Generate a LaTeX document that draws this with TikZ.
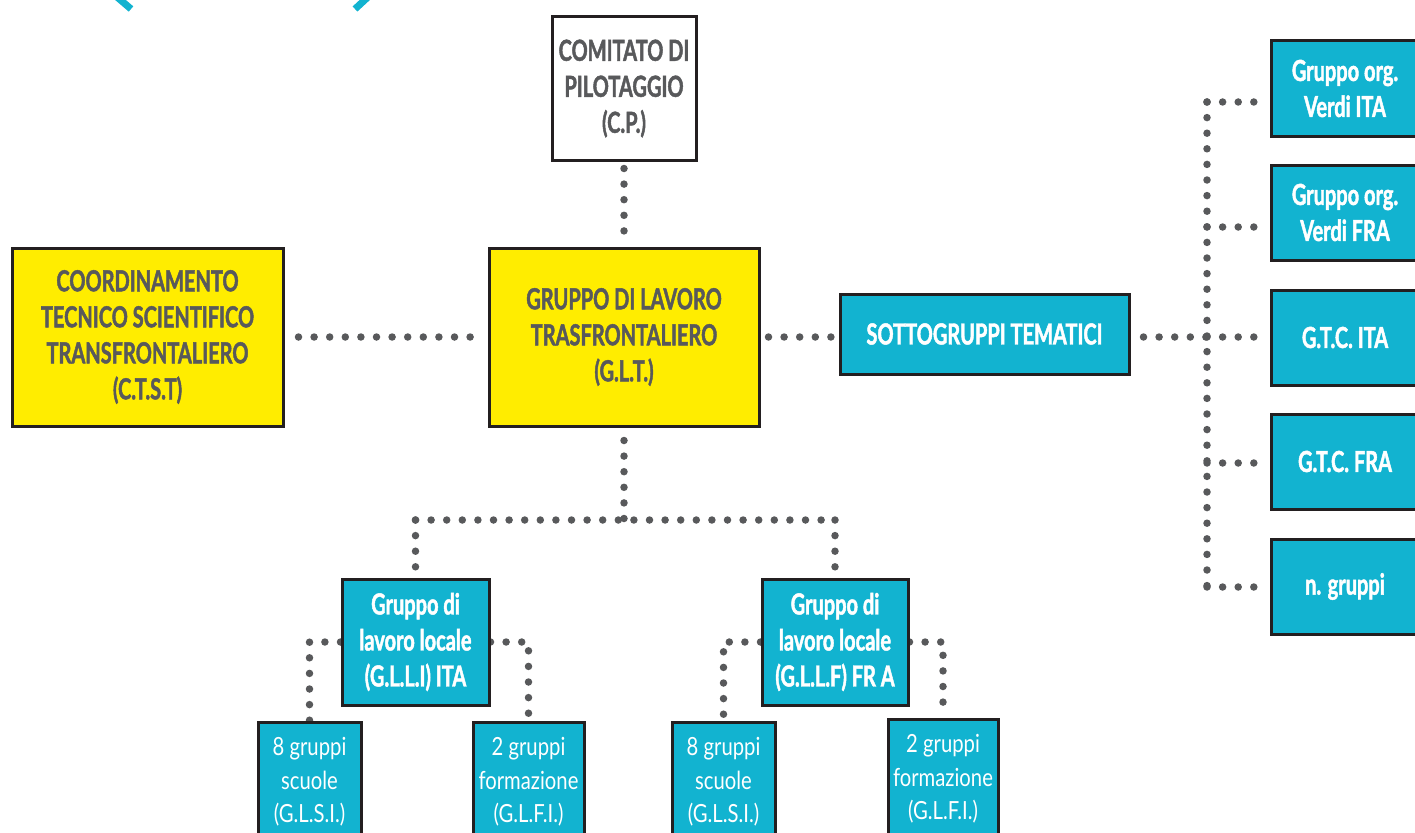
\documentclass[tikz,border=0pt]{standalone}
\usepackage{fontspec}
\setmainfont{Lato}[FakeStretch=0.69, BoldFeatures={FakeBold=1.5}]
\newfontfamily\regf{Lato}[FakeStretch=0.81]
\usetikzlibrary{backgrounds}
\definecolor{cy}{HTML}{12B3D0}
\definecolor{ye}{HTML}{FFED00}
\definecolor{dg}{HTML}{58595B}
\definecolor{bd}{HTML}{231F20}
\tikzset{
  box/.style={draw=bd, line width=3pt, inner sep=0pt, align=center,
    font=\bfseries\fontsize{29}{36}\selectfont},
  yel/.style={box, fill=ye, text=dg},
  whb/.style={box, fill=white, text=dg},
  cyb/.style={box, fill=cy, text=white},
  smallb/.style={cyb, font=\regf\fontsize{25}{33.5}\selectfont},
  dots/.style={draw=dg, line width=7.5pt, line cap=round, dash pattern=on 0pt off 15.6pt},
}
\begin{document}
\begin{tikzpicture}[x=1pt,y=-1pt]
\useasboundingbox (0,0) rectangle (1415,832);
% top decoration
\draw[cy, line width=7pt] (117,-3) -- (131,9);
\draw[cy, line width=7pt] (368,-3) -- (355,9);
% nodes
\node[whb, minimum width=144, minimum height=143] (cp) at (624,88.5) {COMITATO DI\\PILOTAGGIO\\(C.P.)};
\node[yel, minimum width=270, minimum height=178] (glt) at (624,337) {GRUPPO DI LAVORO\\TRASFRONTALIERO\\(G.L.T.)};
\node[yel, minimum width=271, minimum height=178] (ctst) at (147.5,337) {COORDINAMENTO\\TECNICO SCIENTIFICO\\TRANSFRONTALIERO\\(C.T.S.T)};
\node[cyb, minimum width=289, minimum height=80] (sott) at (984.5,334) {SOTTOGRUPPI TEMATICI};
\node[cyb, minimum width=148, minimum height=95] (r1) at (1345,88.5) {Gruppo org.\\Verdi ITA};
\node[cyb, minimum width=148, minimum height=95] (r2) at (1345,212.5) {Gruppo org.\\Verdi FRA};
\node[cyb, minimum width=148, minimum height=95] (r3) at (1345,337.5) {G.T.C. ITA};
\node[cyb, minimum width=148, minimum height=95] (r4) at (1345,461.5) {G.T.C. FRA};
\node[cyb, minimum width=148, minimum height=95] (r5) at (1345,586.5) {n. gruppi};
\node[cyb, minimum width=147, minimum height=126] (glli) at (415.5,642) {Gruppo di\\lavoro locale\\(G.L.L.I) ITA};
\node[cyb, minimum width=146, minimum height=126] (gllf) at (835,642) {Gruppo di\\lavoro locale\\(G.L.L.F) FR A};
\node[smallb, minimum width=103, minimum height=120] (b1) at (309.5,782) {8 gruppi\\scuole\\(G.L.S.I.)};
\node[smallb, minimum width=111, minimum height=120] (b2) at (528.5,782) {2 gruppi\\formazione\\(G.L.F.I.)};
\node[smallb, minimum width=103, minimum height=120] (b3) at (723.5,782) {8 gruppi\\scuole\\(G.L.S.I.)};
\node[smallb, minimum width=110, minimum height=120] (b4) at (943,779) {2 gruppi\\formazione\\(G.L.F.I.)};
% junctions
\coordinate (bus1) at (1207,102);
\coordinate (bus2) at (1207,227);
\coordinate (bus3) at (1207,337);
\coordinate (bus4) at (1207,463);
\coordinate (bus5) at (1207,587);
\coordinate (hub) at (624,520);
\coordinate (hl) at (415.5,520);
\coordinate (hr) at (835,520);
\begin{scope}[on background layer]
\draw[dots, shorten <=7pt, shorten >=10pt] (cp.south) -- (glt.north);
\draw[dots, shorten <=14pt, shorten >=10pt] (ctst.east) -- (glt.west);
\draw[dots, shorten <=8pt, shorten >=6pt] (glt.east) -- (sott.west |- glt.east);
\draw[dots, shorten <=13pt] (sott.east |- bus3) -- (bus3);
\draw[dots] (bus1) -- (bus5);
\draw[dots, shorten >=5pt] (bus1) -- (r1.west |- bus1);
\draw[dots, shorten >=5pt] (bus2) -- (r2.west |- bus2);
\draw[dots, shorten >=5pt] (bus3) -- (r3.west |- bus3);
\draw[dots, shorten >=5pt] (bus4) -- (r4.west |- bus4);
\draw[dots, shorten >=5pt] (bus5) -- (r5.west |- bus5);
\draw[dots, shorten <=13pt] (glt.south) -- (hub);
\draw[dots] (hl) -- (hr);
\draw[dots, shorten >=7pt] (hl) -- (glli.north);
\draw[dots, shorten >=7pt] (hr) -- (gllf.north);
\draw[dots] (glli.west) -| (b1.north);
\draw[dots] (glli.east) -| (b2.north);
\draw[dots] (gllf.west) -| (b3.north);
\draw[dots] (gllf.east) -| (b4.north);
\end{scope}
\end{tikzpicture}
\end{document}
